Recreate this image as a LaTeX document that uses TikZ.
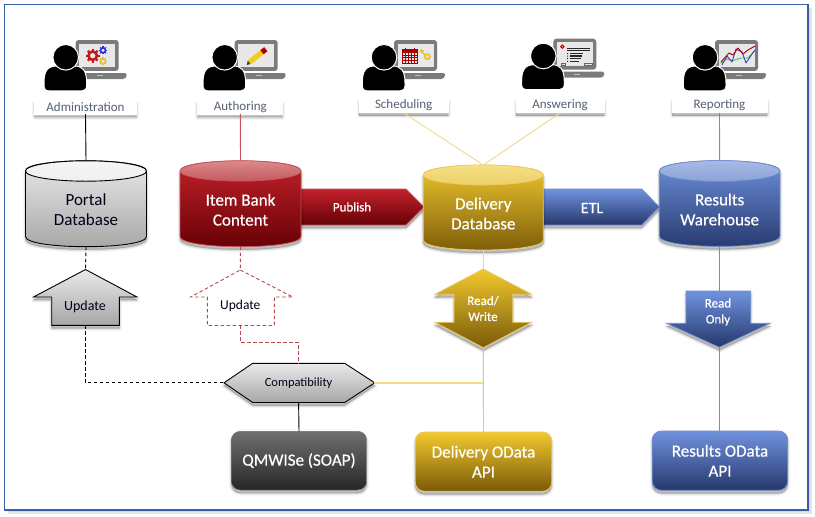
\documentclass[tikz,border=0pt]{standalone}
\usepackage{fontspec}
\setmainfont{Carlito}
\newfontface\semib{Carlito}[FakeBold=0.45]
\usetikzlibrary{calc}
\definecolor{framecol}{HTML}{3A5FA8}
\definecolor{redA}{HTML}{C4222B}\definecolor{redB}{HTML}{650005}\definecolor{redE}{HTML}{C8535A}
\definecolor{redCa}{HTML}{DA8A8A}\definecolor{redCb}{HTML}{C55A5E}
\definecolor{grayA}{HTML}{EAEAEA}\definecolor{grayB}{HTML}{A6A6A6}
\definecolor{yelA}{HTML}{F2C92F}\definecolor{yelB}{HTML}{7A5A08}\definecolor{yelE}{HTML}{EBC961}
\definecolor{yelL}{HTML}{F2D98C}\definecolor{yelG}{HTML}{DCC88F}
\definecolor{yelCa}{HTML}{F6E184}\definecolor{yelCb}{HTML}{EBCF68}
\definecolor{bluA}{HTML}{7092DE}\definecolor{bluB}{HTML}{25386C}\definecolor{bluE}{HTML}{6E8CCB}
\definecolor{bluCa}{HTML}{A8BAE4}\definecolor{bluCb}{HTML}{8AA3D9}
\definecolor{darkA}{HTML}{707070}\definecolor{darkB}{HTML}{262626}
\definecolor{labelcol}{HTML}{556070}
\definecolor{lapcol}{HTML}{7B7B7B}
\tikzset{
  softshadow/.style={
    preaction={draw=black,fill=black,line width=5pt,line join=round,opacity=.04,transform canvas={yshift=-3pt}},
    preaction={draw=black,fill=black,line width=3pt,line join=round,opacity=.07,transform canvas={yshift=-3pt}},
    preaction={draw=black,fill=black,line width=1pt,line join=round,opacity=.10,transform canvas={yshift=-3pt}}},
  fgray/.style={draw=black,line width=.9pt,top color=grayA,bottom color=grayB},
  fred/.style={draw=redE,line width=.8pt,top color=redA,bottom color=redB},
  fyel/.style={draw=yelE,line width=.8pt,top color=yelA,bottom color=yelB},
  fblu/.style={draw=bluE,line width=.8pt,top color=bluA,bottom color=bluB},
  fdark/.style={draw=darkA,line width=.5pt,top color=darkA,bottom color=darkB},
  capgray/.style={draw=black,line width=.9pt,top color=white!92!gray,bottom color=white!88!gray},
  capred/.style={draw=redE,line width=.6pt,top color=redCa,bottom color=redCb},
  capyel/.style={draw=yelE,line width=.6pt,top color=yelCa,bottom color=yelCb},
  capblu/.style={draw=bluE,line width=.6pt,top color=bluCa,bottom color=bluCb},
  wtext/.style={text=white,align=center,font=\semib\fontsize{17}{20}\selectfont,inner sep=0pt},
  btext/.style={text=black!90!blue,align=center,font=\fontsize{17}{20}\selectfont,inner sep=0pt},
  stext/.style={align=center,inner sep=0pt},
  rolebox/.style={fill=white,inner sep=0pt,text=labelcol,font=\fontsize{13}{14}\selectfont},
  lnblack/.style={draw=black,line width=.9pt},
  lnred/.style={draw=redE,line width=.9pt},
  lnyel/.style={draw=yelL,line width=.9pt},
  lnblu/.style={draw=bluE,line width=.9pt},
  dashblack/.style={draw=black,line width=.9pt,dash pattern=on 3.5pt off 2.5pt},
  dashred/.style={draw=redE!90!black,line width=.9pt,dash pattern=on 3.5pt off 2.5pt},
}
\newcommand\dbcyl[9]{%
  \pgfmathsetmacro\xc{(#2+#3)/2}\pgfmathsetmacro\ybot{#5+#6}\pgfmathsetmacro\ytop{#4-#6}%
  \pgfmathsetmacro\ctl{#5+1.333*#6}\pgfmathsetmacro\wid{#3-#2}\pgfmathsetmacro\hei{\ybot-\ytop}\pgfmathsetmacro\ymid{(\ybot+\ytop)/2}%
  \path[#7,softshadow] (#2,#4) -- (#2,#5) .. controls (#2,\ctl) and (#3,\ctl) .. (#3,#5) -- (#3,#4) .. controls (#3,#4-1.333*#6) and (#2,#4-1.333*#6) .. (#2,#4) -- cycle;
  \path[#8] (\xc,#4) ellipse [x radius=\wid/2,y radius=#6];
  \node[inner sep=0pt,outer sep=0pt,minimum width=\wid pt,minimum height=\hei pt] (#1) at (\xc,\ymid) {};
  \node[#9] (#1-text) at (\xc,\ymid+6)}
\newcommand\person[2]{%
  \begin{scope}[shift={(#1,#2)}]
    \fill[lapcol,rounded corners=3pt] (10,-17.3) rectangle (53,13.6);
    \fill[white!91!black] (13.5,-13.8) rectangle (49.5,10);
    \fill[lapcol,rounded corners=1.5pt] (13,15.7) -- (61,15.7) -- (61,19) -- (59,21.7) -- (13,21.7) -- cycle;
    \fill[white!75!black] (31,17.7) rectangle (37,18.9);
    \fill[black,draw=white,line width=1pt] (-21.7,26) .. controls (-21.7,13) and (-18,8.6) .. (-8,8.6) -- (8,8.6) .. controls (17,8.6) and (21,13) .. (21,26) -- (21,28) .. controls (21,32) and (19,33.6) .. (16,33.6) -- (-16,33.6) .. controls (-20,33.6) and (-21.7,32) .. (-21.7,28) -- cycle;
    \fill[black,draw=white,line width=1pt] (0,0) circle (12.8pt);
  \end{scope}}
\newcommand\gear[4]{%
  \draw[#4,line width=#3*.42pt] (#1,#2) circle (#3*.68pt);
  \foreach \a in {0,45,...,315}{\draw[#4,line width=#3*.36pt] ($(#1,#2)+(\a:#3*.75pt)$) -- ($(#1,#2)+(\a:#3*1.12pt)$);}}
\begin{document}
\begin{tikzpicture}[x=1pt,y=-1pt]
\useasboundingbox (0,0) rectangle (815,517);
\fill[white] (0,0) rectangle (815,517);
\fill[black!20,opacity=.5] (8,8) rectangle (812,514);
\fill[black!20,opacity=.5] (7,7) rectangle (810,512);
\draw[framecol,line width=1.1pt,fill=white] (4.5,4.5) rectangle (808,510);

\person{65.7}{57.3}
\gear{92.7}{55.7}{6.2}{red!75!black!90}
\gear{103}{50.3}{3.6}{blue!65!gray}
\gear{103}{61.3}{3.6}{yellow!60!orange!85!gray}
\person{224.7}{57.3}
\draw[yellow!70!orange!90!gray,line width=5.2pt] (249.5,62.2) -- (262,52.2);
\draw[red!70!black,line width=5.2pt] (262,52.2) -- (265.8,49.2);
\fill[black!75] (246.6,65) -- (247.8,60.6) -- (250.6,64) -- cycle;
\person{384}{57.3}
\begin{scope}[red!65!black]
  \draw[line width=.9pt] (402.9,49.5) rectangle (417.1,63.3);
  \fill (402.9,49.5) rectangle (417.1,52.5);
  \draw[line width=.9pt] (405.6,47.5) -- (405.6,50.5) (414.4,47.5) -- (414.4,50.5);
  \foreach \gy in {55,57.7,60.4}{\draw[line width=.5pt] (402.9,\gy) -- (417.1,\gy);}
  \foreach \gx in {405.7,408.5,411.3,414.2}{\draw[line width=.5pt] (\gx,52.5) -- (\gx,63.3);}
\end{scope}
\draw[yellow!65!orange!85!gray,line width=1.8pt] (427.3,56.7) circle (2.6pt);
\draw[yellow!65!orange!85!gray,line width=1.5pt] (425.2,55) -- (420,50.5) (421.8,52.2) -- (423.5,50.5) (420.5,51) -- (422,49.5);
\person{543.3}{56}
\begin{scope}[black!85]
  \draw[red!80!black,line width=1pt] (562.4,46.6) circle (1.6pt);
  \fill (566.7,47.6) rectangle (590,49.2);
  \fill (566.7,50.4) rectangle (590,51.4);
  \fill (570,52.6) rectangle (583,54);
  \fill (570,55.4) rectangle (582,56.6);
  \fill (570,58) rectangle (581,59.2);
  \fill (570,60.6) rectangle (579,61.8);
  \fill (567,53) rectangle (568.2,54) (567,55.6) rectangle (568.2,56.6) (567,58.2) rectangle (568.2,59.2) (567,60.8) rectangle (568.2,61.8);
  \draw[black!60,line width=.5pt] (561.5,63.2) rectangle (565,65) (584,63.2) rectangle (592,65);
\end{scope}
\person{705}{57.3}
\draw[green!60!gray,line width=.9pt,line join=round] (720.7,63.3) -- (727,59) -- (733,60.5) -- (741,58) -- (748,58) -- (754.5,51);
\draw[blue!50!gray,line width=.9pt,line join=round] (722,65) -- (727,56) -- (732,62) -- (736,49) -- (742,52) -- (746,63) -- (752,54) -- (755,50);
\draw[red!70!black,line width=.9pt,line join=round] (721,62) -- (729,53) -- (733,55) -- (738,48) -- (743,54) -- (748,50) -- (755,46);

\path[softshadow,draw=white,fill=white,line width=0pt] (34.7,100) rectangle (136,114);
\node[rolebox,minimum width=101.3pt,minimum height=14pt] (admin) at (85.5,107) {\raisebox{-.5pt}{Administration}};
\path[softshadow,draw=white,fill=white,line width=0pt] (197.7,100) rectangle (282.3,114);
\node[rolebox,minimum width=84.6pt,minimum height=14pt] (author) at (240.3,107) {Authoring};
\path[softshadow,draw=white,fill=white,line width=0pt] (359,98.3) rectangle (448.3,112.8);
\node[rolebox,minimum width=89.3pt,minimum height=14.5pt] (sched) at (403.7,105.5) {\raisebox{-1pt}{Scheduling}};
\path[softshadow,draw=white,fill=white,line width=0pt] (516,98.3) rectangle (604,112.8);
\node[rolebox,minimum width=88pt,minimum height=14.5pt] (answer) at (560,105.5) {\raisebox{-.5pt}{Answering}};
\path[softshadow,draw=white,fill=white,line width=0pt] (672,98.3) rectangle (767,112.8);
\node[rolebox,minimum width=95pt,minimum height=14.5pt] (report) at (719.5,105.5) {\raisebox{-.5pt}{Reporting}};

\path[fred,softshadow] (299,189) -- (406,189) -- (424,207) -- (406,225) -- (299,225) -- cycle;
\node[inner sep=0pt,text=white,font=\semib\fontsize{13}{15}\selectfont] (publish) at (352,207) {Publish};
\path[fblu,softshadow] (543.5,189) -- (641.7,189) -- (659.3,207) -- (641.7,225) -- (543.5,225) -- cycle;
\node[inner sep=0pt,text=white,font=\semib\fontsize{16}{18}\selectfont] (etl) at (592,208) {ETL};

\dbcyl{portal}{25.5}{146.5}{171}{236.5}{10.2}{fgray}{capgray}{btext}{Portal\\Database};
\dbcyl{item}{180}{301}{171}{236.5}{10.2}{fred}{capred}{wtext}{Item Bank\\Content};
\dbcyl{delivery}{423.3}{543.3}{175}{240}{10}{fyel}{capyel}{wtext}{Delivery\\Database};
\dbcyl{results}{659.3}{780}{171}{236}{10.4}{fblu}{capblu}{wtext}{Results\\Warehouse};

\path[fgray,softshadow] (85.5,269.5) -- (137,297) -- (119.3,297) -- (119.3,325.3) -- (51.7,325.3) -- (51.7,297) -- (33.5,297) -- cycle;
\node[inner sep=0pt,outer sep=0pt,minimum width=103.5pt,minimum height=55.8pt] (upd1) at (85.5,297.4) {};
\node[stext,text=black!90!blue,font=\fontsize{14}{15}\selectfont] (upd1-text) at (85,306.5) {Update};
\path[dashred,fill=white] (240.3,270) -- (292.7,297) -- (274.3,297) -- (274.3,325.5) -- (207.3,325.5) -- (207.3,297) -- (190.7,297) -- cycle;
\node[inner sep=0pt,outer sep=0pt,minimum width=102pt,minimum height=55.5pt] (upd2) at (240.3,297.7) {};
\node[stext,text=black!90!blue,font=\fontsize{13.5}{15}\selectfont] (upd2-text) at (240.3,305.5) {Update};
\path[fyel,softshadow] (483.3,269) -- (531.7,294.3) -- (512.7,294.3) -- (512.7,322.3) -- (531.7,322.3) -- (483.3,347.7) -- (435,322.3) -- (454,322.3) -- (454,294.3) -- (435,294.3) -- cycle;
\node[inner sep=0pt,outer sep=0pt,minimum width=96.7pt,minimum height=78.7pt] (rw) at (483.3,308.35) {};
\node[stext,text=white,font=\semib\fontsize{13}{16}\selectfont] (rw-text) at (483,308.5) {Read/\\Write};
\path[fblu,softshadow] (686,291) -- (750.7,291) -- (750.7,323.3) -- (770,323.3) -- (719.3,347.3) -- (666.7,323.3) -- (686,323.3) -- cycle;
\node[inner sep=0pt,outer sep=0pt,minimum width=103.3pt,minimum height=56.3pt] (ro) at (719.3,319.15) {};
\node[stext,text=white,font=\semib\fontsize{13}{16}\selectfont] (ro-text) at (718,312) {Read\\Only};
\path[fgray,softshadow] (224,382.8) -- (252.7,363.3) -- (344.7,363.3) -- (374.7,382.8) -- (344.7,402.5) -- (252.7,402.5) -- cycle;
\node[inner sep=0pt,outer sep=0pt,minimum width=150.7pt,minimum height=39.2pt,font=\fontsize{12.5}{15}\selectfont,text=black!90!blue] (compat) at (298.6,382.9) {Compatibility};

\path[fdark,softshadow,rounded corners=9pt] (231.3,431.3) rectangle (366.7,490);
\node[inner sep=0pt,outer sep=0pt,minimum width=135.4pt,minimum height=58.7pt,wtext] (qmwise) at (299,460.6) {QMWISe (SOAP)};
\path[fyel,softshadow,rounded corners=9pt] (415.3,432) rectangle (551.7,491.3);
\node[inner sep=0pt,outer sep=0pt,minimum width=136.4pt,minimum height=59.3pt,wtext] (dapi) at (483.5,461.7) {Delivery OData\\API};
\path[fblu,softshadow,rounded corners=9pt] (652.3,431) rectangle (787.7,490.3);
\node[inner sep=0pt,outer sep=0pt,minimum width=135.4pt,minimum height=59.3pt,wtext] (rapi) at (720,460.7) {Results OData\\API};

\draw[lnblack] (admin.south) -- (portal.north);
\draw[lnred] (author.south) -- (item.north);
\draw[lnyel] (sched.south) -- (delivery.north);
\draw[lnyel] (answer.south) -- (delivery.north);
\draw[lnblu] (report.south) -- (results.north);
\draw[dashblack] (portal.south) -- (upd1.north);
\draw[dashred] (item.south) -- (upd2.north);
\draw[dashblack] (upd1.south) |- (compat.west);
\draw[dashred] (upd2.south) -- ++(0,17.2) -| (compat.north);
\draw[lnblack] (compat.south) -- (qmwise.north);
\draw[lnyel] (delivery.south) -- (rw.north);
\draw[lnyel,line width=1.3pt] (compat.east) -| (rw.south);
\draw[draw=yelG,line width=.9pt] (rw.south) -- (dapi.north);
\draw[lnblu] (results.south) -- (ro.north -| results.south);
\draw[lnblu] (ro.south) -- (rapi.north -| ro.south);
\end{tikzpicture}
\end{document}
